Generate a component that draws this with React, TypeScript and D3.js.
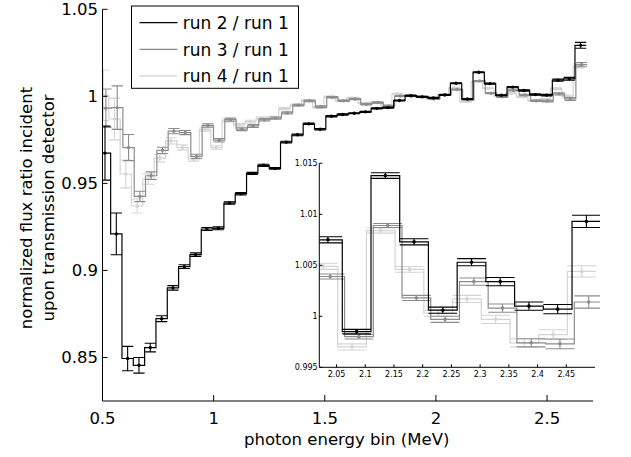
import React from 'react';
import * as d3 from 'd3';

// ratio of each run to run 1, one value per photon energy bin (43 bins)
const run2 = [0.9674, 0.921, 0.8494, 0.8455, 0.8557, 0.8723, 0.89, 0.9022, 0.9091, 0.9238, 0.9242, 0.9387, 0.9441, 0.9557, 0.9604, 0.9586, 0.9737, 0.9779, 0.9842, 0.9811, 0.9886, 0.9896, 0.9903, 0.9911, 0.9931, 0.9935, 0.9976, 1.0004, 0.9997, 0.9991, 1.0008, 1.0075, 0.9985, 1.0138, 1.0073, 1.0006, 1.0053, 1.0034, 1.001, 1.0007, 1.0093, 1.0101, 1.0293];
const run2Err = [0.0155, 0.012, 0.007, 0.0045, 0.0025, 0.0017, 0.0013, 0.0011, 0.001, 0.0009, 0.0008, 0.0007, 0.0007, 0.0006, 0.0006, 0.0005, 0.0005, 0.0005, 0.0004, 0.0004, 0.0004, 0.0004,
  0.0003, 0.0003, 0.0003, 0.0003, 0.0003, 0.0003, 0.0003, 0.0003, 0.0003, 0.0003,
  0.00022, 0.00028, 0.0003, 0.0003, 0.00035, 0.0004, 0.0004, 0.00045, 0.0006, 0.0008, 0.0017];

const run3 = [0.9932, 0.9935, 0.9706, 0.9425, 0.9544, 0.969, 0.98, 0.9792, 0.9655, 0.9833, 0.9748, 0.9866, 0.9811, 0.983, 0.9865, 0.9875, 0.9905, 0.995, 0.9974, 0.994, 0.9995, 0.9974, 0.9985, 0.9955, 0.9964, 0.9945, 1.0002, 1.0002, 0.9997, 0.9985, 1.001, 1.0039, 0.998, 1.0089, 1.0018, 0.9997, 1.0034, 1.0008, 0.9974, 0.9973, 1.0014, 0.9985, 1.0182];
const run3Err = [0.011, 0.0125, 0.0075, 0.003, 0.0022, 0.0018, 0.0015, 0.0012, 0.0012, 0.001, 0.001, 0.0009, 0.0008, 0.0008, 0.0007, 0.0006, 0.0006, 0.0005, 0.0005, 0.0005, 0.0004, 0.0004,
  0.0004, 0.0004, 0.0004, 0.0004, 0.0003, 0.0003, 0.0003, 0.0003, 0.0003,
  0.00025, 0.00022, 0.0002, 0.00025, 0.0003, 0.00035, 0.0004, 0.0004, 0.00048, 0.0006, 0.0008, 0.0012];

const run4 = [1.0006, 0.987, 0.9554, 0.937, 0.9525, 0.9645, 0.9744, 0.9706, 0.964, 0.981, 0.9706, 0.9862, 0.9836, 0.9855, 0.9875, 0.988, 0.993, 0.995, 0.9976, 0.9937, 0.9997, 0.9975, 0.999, 0.996, 0.9965, 0.9948, 1.0015, 1.0005, 0.9998, 0.9985, 1.001, 1.0049, 0.997, 1.0084, 1.0046, 1.0003, 1.0017, 0.9997, 0.9974, 0.9982, 1.0044, 1.0, 1.0175];
const run4Err = [0.0145, 0.012, 0.008, 0.004, 0.003, 0.0022, 0.0018, 0.0015, 0.0012, 0.001, 0.001, 0.0009, 0.0008, 0.0008, 0.0007, 0.0006, 0.0006, 0.0005, 0.0005, 0.0005, 0.0004, 0.0004,
  0.0004, 0.0004, 0.0004, 0.0004, 0.0003, 0.0003, 0.0003, 0.0003, 0.0003,
  0.0003, 0.0003, 0.00025, 0.00028, 0.0003, 0.00035, 0.0004, 0.0004, 0.00048, 0.00055, 0.0008, 0.0012];

const legendLabels = ['run 2 / run 1', 'run 3 / run 1', 'run 4 / run 1'];

const mainXTicks = [0.5, 1, 1.5, 2, 2.5];
const mainYTicks = [0.85, 0.9, 0.95, 1, 1.05];
const insetXTicks = [2.05, 2.1, 2.15, 2.2, 2.25, 2.3, 2.35, 2.4, 2.45];
const insetYTicks = [0.995, 1, 1.005, 1.01, 1.015];

// bin grids as they sit on each of the two axes
const mainFirstBin = 0.5112;
const mainBinWidth = 0.05095;
const insetFirstIndex = 31; // inset zooms in on bins 31..40
const insetFirstBin = 2.035;
const insetBinWidth = 0.05;

const series = [
  { name: legendLabels[2], values: run4, errors: run4Err, color: '#d4d4d4', shift: -0.16 },
  { name: legendLabels[1], values: run3, errors: run3Err, color: '#8c8c8c', shift: 0.08 },
  { name: legendLabels[0], values: run2, errors: run2Err, color: '#000000', shift: 0 },
];

const font = '"DejaVu Sans", Verdana, sans-serif';

type Scale = d3.ScaleLinear<number, number>;

// stairs, error bars (caps as wide as the bin) and dots for one series
const Marks = ({ s, x, y, idx, center, width, r }: any) => {
  const half = width / 2;
  const cx = (i: number) => center(i) + s.shift * width;
  const stairs = d3.path();
  idx.forEach((i: number, k: number) => {
    const v = y(s.values[i]);
    if (k === 0) stairs.moveTo(x(cx(i) - half), v);
    else stairs.lineTo(x(cx(i) - half), v);
    stairs.lineTo(x(cx(i) + half), v);
  });
  const bars = d3.path();
  idx.forEach((i: number) => {
    const v = s.values[i], e = s.errors[i];
    const l = x(cx(i) - half), rr = x(cx(i) + half), c = x(cx(i));
    bars.moveTo(c, y(v - e)); bars.lineTo(c, y(v + e));
    bars.moveTo(l, y(v + e)); bars.lineTo(rr, y(v + e));
    bars.moveTo(l, y(v - e)); bars.lineTo(rr, y(v - e));
  });
  return (
    <g>
      <path d={stairs.toString()} fill="none" stroke={s.color} strokeWidth={1.2} />
      <path d={bars.toString()} fill="none" stroke={s.color} strokeWidth={1.1} />
      {idx.map((i: number) => (
        <circle key={i} cx={x(cx(i))} cy={y(s.values[i])} r={r} fill={s.color} />
      ))}
    </g>
  );
};

const fmt = (v: number) => String(+v.toFixed(3));

const App = () => {
  const x: Scale = d3.scaleLinear().domain([0.5, 2.7]).range([102.5, 591.5]);
  const y: Scale = d3.scaleLinear().domain([0.825, 1.05]).range([401, 9.3]);
  const xi: Scale = d3.scaleLinear().domain([2.02, 2.5]).range([319.3, 595]);
  const yi: Scale = d3.scaleLinear().domain([0.995, 1.015]).range([367.3, 163.3]);

  const mainIdx = d3.range(run2.length);
  const insetIdx = d3.range(insetFirstIndex, insetFirstIndex + 10);
  const mainCenter = (i: number) => mainFirstBin + i * mainBinWidth;
  const insetCenter = (i: number) => insetFirstBin + (i - insetFirstIndex) * insetBinWidth;

  const [x0, x1] = x.range();
  const [y0, y1] = y.range();
  const [xi0, xi1] = xi.range();
  const [yi0, yi1] = yi.range();

  return (
    <svg width={631} height={457} style={{ position: 'absolute', left: 0, top: 0, background: '#fff' }}
      fontFamily={font}>
      <defs>
        <clipPath id="mainClip"><rect x={x0} y={y1 - 2} width={x1 - x0} height={y0 - y1 + 2} /></clipPath>
        <clipPath id="insetClip"><rect x={xi0} y={yi1} width={600 - xi0} height={yi0 - yi1} /></clipPath>
      </defs>

      {/* main axes */}
      <g clipPath="url(#mainClip)">
        {series.map(s => (
          <Marks key={s.name} s={s} x={x} y={y} idx={mainIdx} center={mainCenter} width={mainBinWidth} r={1.7} />
        ))}
      </g>
      <path d={`M${x0},${y1}V${y0}H${x1 + 1.5}`} fill="none" stroke="#000" strokeWidth={1} />
      {mainXTicks.map(t => (
        <g key={t}>
          <line x1={x(t)} x2={x(t)} y1={y0} y2={y0 - 6} stroke="#000" />
          <text x={x(t)} y={423.5} fontSize={16.5} textAnchor="middle">{fmt(t)}</text>
        </g>
      ))}
      {mainYTicks.map(t => (
        <g key={t}>
          <line x1={x0} x2={x0 + 5} y1={y(t)} y2={y(t)} stroke="#000" />
          <text x={98} y={y(t) + 6} fontSize={16.5} textAnchor="end">{fmt(t)}</text>
        </g>
      ))}
      <text x={346.7} y={444.5} fontSize={16.5} textAnchor="middle">photon energy bin (MeV)</text>
      <g transform="translate(0,208) rotate(-90)" fontSize={16.5} textAnchor="middle">
        <text x={0} y={32}>normalized flux ratio incident</text>
        <text x={0} y={53.5}>upon transmission detector</text>
      </g>

      {/* legend */}
      <g>
        <rect x={131.5} y={6} width={167} height={82.3} fill="#fff" stroke="#000" strokeWidth={1} />
        {[series[2], series[1], series[0]].map((s, k) => {
          const ly = 22.7 + k * 26.6;
          return (
            <g key={s.name}>
              <line x1={139.5} x2={177.5} y1={ly} y2={ly} stroke={s.color} strokeWidth={1.2} />
              <text x={182.7} y={ly + 6.2} fontSize={17}>{s.name}</text>
            </g>
          );
        })}
      </g>

      {/* inset zoom on the high-energy bins */}
      <rect x={xi0} y={yi1} width={xi1 - xi0} height={yi0 - yi1} fill="#fff" />
      <g clipPath="url(#insetClip)">
        {series.map(s => (
          <Marks key={s.name} s={s} x={xi} y={yi} idx={insetIdx} center={insetCenter} width={insetBinWidth} r={1.8} />
        ))}
      </g>
      <path d={`M${xi0},${yi1}V${yi0}H${xi1}`} fill="none" stroke="#000" strokeWidth={1} />
      {insetXTicks.map(t => (
        <g key={t}>
          <line x1={xi(t)} x2={xi(t)} y1={yi0} y2={yi0 - 3} stroke="#000" />
          <text x={xi(t)} y={376.8} fontSize={8} textAnchor="middle">{fmt(t)}</text>
        </g>
      ))}
      {insetYTicks.map(t => (
        <g key={t}>
          <line x1={xi0} x2={xi0 + 3} y1={yi(t)} y2={yi(t)} stroke="#000" />
          <text x={317.7} y={yi(t) + 2.9} fontSize={8} textAnchor="end">{fmt(t)}</text>
        </g>
      ))}
    </svg>
  );
};

export default App;
